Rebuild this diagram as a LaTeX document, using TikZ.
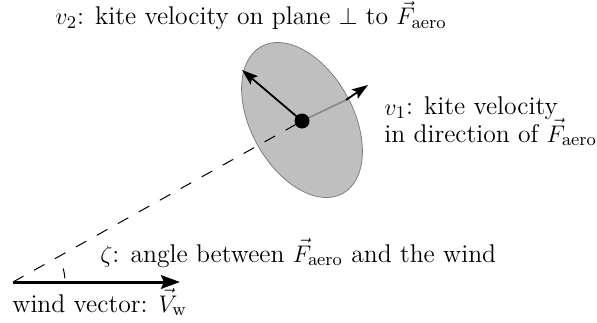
\documentclass[tikz,border=0pt]{standalone}
\usetikzlibrary{arrows.meta}
\begin{document}
\begin{tikzpicture}[x=0.5pt,y=0.5pt,
  lbl/.style={anchor=base west,inner sep=0pt,font=\fontsize{12.8}{15}\selectfont},
  vecarrow/.style={line width=0.9pt,-{Stealth[length=8pt,width=5.5pt,inset=1.5pt]}},
  windarrow/.style={line width=1.5pt,-{Stealth[length=9.5pt,width=6.8pt,inset=1.5pt]}},
  kite/.style={fill=black!25,draw=black!50,line width=0.4pt}]
\useasboundingbox (0,0) rectangle (597,322);
\coordinate (W0) at (13,40);
\coordinate (Wtip) at (180,40);
\coordinate (C) at (302,201);
\coordinate (V2tip) at (242,252);
\coordinate (V1edge) at (346,222);
\coordinate (V1tip) at (368,237);
% kite
\draw[kite,rotate around={-61:(302,202)}] (302,202) ellipse [x radius=84,y radius=51];
% dashed line of F_aero
\draw[dashed,dash pattern=on 6pt off 6pt,line width=0.5pt] (W0) -- (C);
% v1 arrow
\draw[line width=0.9pt,black!45] (C) -- (V1edge);
\draw[vecarrow] (V1edge) -- (V1tip);
% v2 arrow
\draw[vecarrow] (C) -- (V2tip);
\fill (C) circle [radius=7.5];
% wind
\draw[windarrow] (W0) -- (Wtip);
\draw[line width=0.5pt] ([shift={(4:52)}]W0) arc[start angle=4,end angle=15,radius=52];
% labels
\node[lbl] (t2) at (55,297) {$v_2$: kite velocity on plane $\perp$ to $\vec{F}_{\mathrm{aero}}$};
\node[lbl] (t1a) at (384,207) {$v_1$: kite velocity};
\node[lbl] (t1b) at (384,180) {in direction of $\vec{F}_{\mathrm{aero}}$};
\node[lbl] (tz) at (100,60) {$\zeta$: angle between $\vec{F}_{\mathrm{aero}}$ and the wind};
\node[lbl] (tw) at (12,10) {wind vector: $\vec{V}_{\mathrm{w}}$};
\end{tikzpicture}
\end{document}
